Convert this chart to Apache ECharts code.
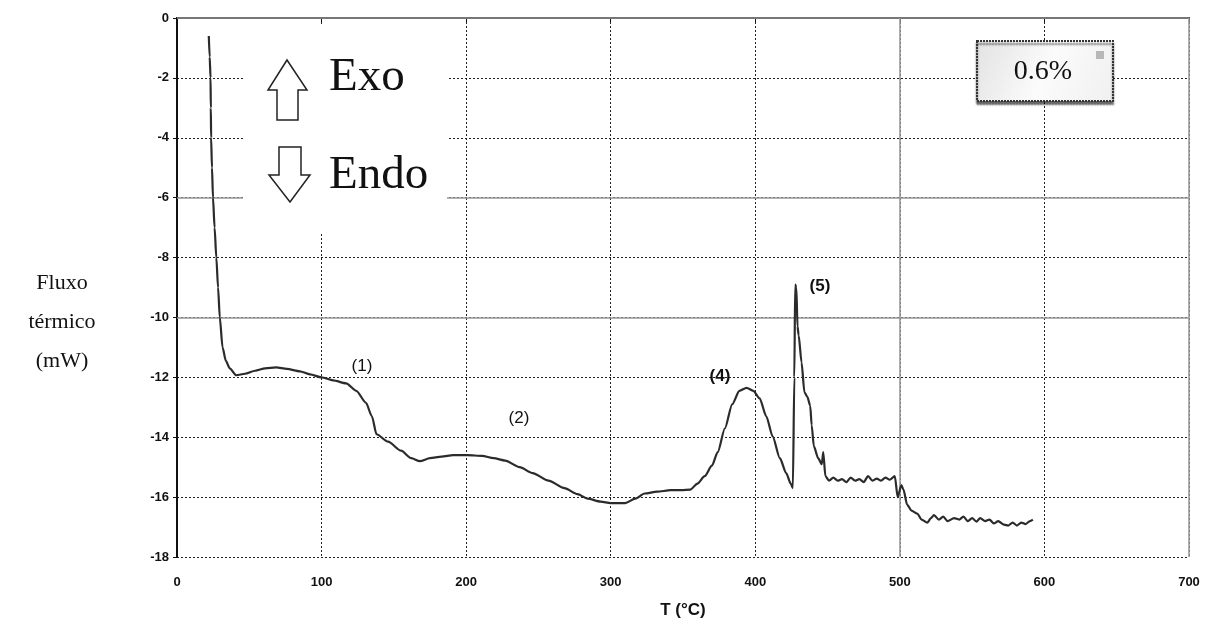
<!DOCTYPE html>
<html>
<head>
<meta charset="utf-8">
<script src="https://cdn.jsdelivr.net/npm/echarts@6/dist/echarts.min.js"></script>
<style>
  html, body { margin: 0; padding: 0; background: #fff; }
  #main { width: 1217px; height: 633px; }
</style>
</head>
<body>
<div id="main"></div>
<script>
// DSC curve: temperature (°C) and heat flow (mW)
var temps = [22, 22.6, 23.2, 23.4, 23.6, 24.2, 24.9, 26, 27.2, 28.4, 29.6, 31.5, 33.8, 36.5, 41,
  47, 54, 61, 68.6, 76, 85, 92, 100,
  108, 117, 124, 130.7, 134.8, 138, 146, 155, 162, 168, 175, 183, 191, 201,
  211, 219, 227, 237, 246, 257, 268, 277, 284, 293, 300, 310, 317, 323.5, 332, 341.5, 349, 355,
  360, 365, 370, 374, 379, 384, 389, 394, 398.6, 403, 407.6, 412, 417, 421.4, 424.5, 426,
  427, 427.6, 428.4, 429.2, 430, 432, 434, 436, 438, 439, 440.5, 443.5, 446, 447, 448.5,
  451, 454, 457, 460, 463, 466, 469, 472, 475, 478, 481, 484, 487, 490, 493, 496.5,
  498.5, 501, 502.5, 505, 508, 512, 515, 519, 521.5, 523.6, 527, 530, 533, 537.5, 541,
  544, 547, 550, 553, 555.5, 559, 562, 565, 568, 572, 575, 578, 581, 584, 587, 590, 592];
var flux = [-0.6, -1.3, -2.0, -3.0, -4.0, -5.0, -6.0, -7.0, -8.0, -9.0, -10.0, -11.0, -11.45, -11.7, -11.93,
  -11.88, -11.78, -11.7, -11.67, -11.72, -11.8, -11.9, -12.0,
  -12.1, -12.2, -12.45, -12.85, -13.3, -13.9, -14.15, -14.45, -14.7, -14.8, -14.7, -14.65, -14.6, -14.6,
  -14.62, -14.7, -14.78, -15.0, -15.2, -15.45, -15.7, -15.9, -16.05, -16.15, -16.2, -16.2, -16.05, -15.88, -15.82, -15.77, -15.77, -15.75,
  -15.55, -15.3, -14.95, -14.5, -13.7, -12.9, -12.45, -12.35, -12.45, -12.7, -13.3, -13.97, -14.7, -15.2, -15.55, -15.7,
  -12.0, -8.9, -9.0, -10.3, -10.6, -11.5, -12.5, -12.65, -12.95, -13.6, -14.3, -14.7, -14.9, -14.5, -15.3,
  -15.45, -15.35, -15.45, -15.4, -15.5, -15.35, -15.45, -15.4, -15.5, -15.3, -15.45, -15.38, -15.45, -15.35, -15.42, -15.3,
  -16.0, -15.6, -15.75, -16.25, -16.45, -16.55, -16.75, -16.85, -16.7, -16.6, -16.75, -16.65, -16.8, -16.7, -16.75,
  -16.65, -16.8, -16.7, -16.82, -16.7, -16.8, -16.75, -16.88, -16.8, -16.92, -16.95, -16.85, -16.95, -16.85, -16.9, -16.8, -16.75];

var xTicks = [0, 100, 200, 300, 400, 500, 600, 700];
var yTicks = [0, -2, -4, -6, -8, -10, -12, -14, -16, -18];
var peakLabels = ['(1)', '(2)', '(4)', '(5)'];

var seriesData = [];
for (var i = 0; i < temps.length; i++) {
    seriesData.push([temps[i], flux[i]]);
}

var tickFont = { color: '#111', fontFamily: 'Liberation Sans', fontWeight: 'bold', fontSize: 13 };

var chart = echarts.init(document.getElementById('main'));
chart.setOption({
    animation: false,
    backgroundColor: '#fff',
    grid: { left: 177, right: 28, top: 18, bottom: 76 },
    xAxis: {
        type: 'value', min: xTicks[0], max: xTicks[xTicks.length - 1], interval: 100,
        name: 'T (°C)', nameLocation: 'middle', nameGap: 45,
        nameTextStyle: { color: '#111', fontFamily: 'Liberation Sans', fontWeight: 'bold', fontSize: 17 },
        axisLine: { lineStyle: { color: '#111', width: 2 } },
        axisTick: { show: true, length: 4, lineStyle: { color: '#111' } },
        axisLabel: Object.assign({ margin: 19 }, tickFont),
        splitLine: { show: true, lineStyle: { color: '#222', type: [2, 2], width: 1 } }
    },
    yAxis: {
        type: 'value', min: yTicks[yTicks.length - 1], max: yTicks[0], interval: 2,
        axisLine: { show: true, lineStyle: { color: '#111', width: 2 } },
        axisTick: { show: true, length: 4, lineStyle: { color: '#111' } },
        axisLabel: Object.assign({ margin: 8 }, tickFont),
        splitLine: { show: true, lineStyle: { color: '#222', type: [2, 2], width: 1 } }
    },
    series: [{
        type: 'line',
        data: seriesData,
        showSymbol: false,
        smooth: 0.25,
        smoothMonotone: 'x',
        lineStyle: { color: '#2b2b2b', width: 2.2 },
        z: 5,
        markLine: {
            silent: true, symbol: 'none', label: { show: false },
            lineStyle: { color: '#9a9a9a', type: 'solid', width: 1.6 },
            data: [{ yAxis: 0 }, { yAxis: -6 }, { yAxis: -10 }, { xAxis: 500 }, { xAxis: 700 }]
        }
    }],
    graphic: [
        // white panel behind the Exo / Endo legend
        { type: 'rect', z: 20, shape: { x: 243, y: 24, width: 204, height: 208 }, style: { fill: '#fff' } },
        { type: 'polygon', z: 21, shape: { points: [[287, 60], [307, 90], [298, 90], [298, 120], [277, 120], [277, 90], [268, 90]] },
          style: { fill: '#fff', stroke: '#222', lineWidth: 1.5 } },
        { type: 'polygon', z: 21, shape: { points: [[279, 147], [301, 147], [301, 175], [310, 175], [290, 202], [269, 175], [279, 175]] },
          style: { fill: '#fff', stroke: '#222', lineWidth: 1.5 } },
        { type: 'text', z: 21, left: 329, top: 54, style: { text: 'Exo', font: '47px "Liberation Serif"', fill: '#111' } },
        { type: 'text', z: 21, left: 329, top: 152, style: { text: 'Endo', font: '47px "Liberation Serif"', fill: '#111' } },
        // 0.6% box
        { type: 'rect', z: 20, shape: { x: 977, y: 41, width: 136, height: 60 },
          style: { fill: { type: 'linear', x: 0, y: 0, x2: 1, y2: 1, colorStops: [{ offset: 0, color: '#e2e2e2' }, { offset: 0.5, color: '#fbfbfb' }, { offset: 1, color: '#f0f0f0' }] },
                   stroke: '#333', lineWidth: 2, lineDash: [2, 1], shadowColor: 'rgba(0,0,0,0.6)', shadowOffsetY: 3, shadowBlur: 2 } },
        { type: 'rect', z: 21, shape: { x: 1096, y: 51, width: 8, height: 8 }, style: { fill: '#b8b8b8' } },
        { type: 'text', z: 22, x: 1043, y: 72, style: { text: '0.6%', font: '28px "Liberation Serif"', fill: '#111', align: 'center', verticalAlign: 'middle' } },
        // y-axis title
        { type: 'text', z: 21, x: 62, y: 322, style: { text: 'Fluxo\ntérmico\n(mW)', font: '22px "Liberation Serif"', lineHeight: 39, fill: '#111', align: 'center', verticalAlign: 'middle' } },
        // peak labels
        { type: 'text', z: 21, x: 362, y: 366, style: { text: peakLabels[0], font: '17px "Liberation Sans"', fill: '#111', align: 'center', verticalAlign: 'middle' } },
        { type: 'text', z: 21, x: 519, y: 418, style: { text: peakLabels[1], font: '17px "Liberation Sans"', fill: '#111', align: 'center', verticalAlign: 'middle' } },
        { type: 'text', z: 21, x: 720, y: 376, style: { text: peakLabels[2], font: 'bold 17px "Liberation Sans"', fill: '#111', align: 'center', verticalAlign: 'middle' } },
        { type: 'text', z: 21, x: 820, y: 286, style: { text: peakLabels[3], font: 'bold 17px "Liberation Sans"', fill: '#111', align: 'center', verticalAlign: 'middle' } }
    ]
});
</script>
</body>
</html>
